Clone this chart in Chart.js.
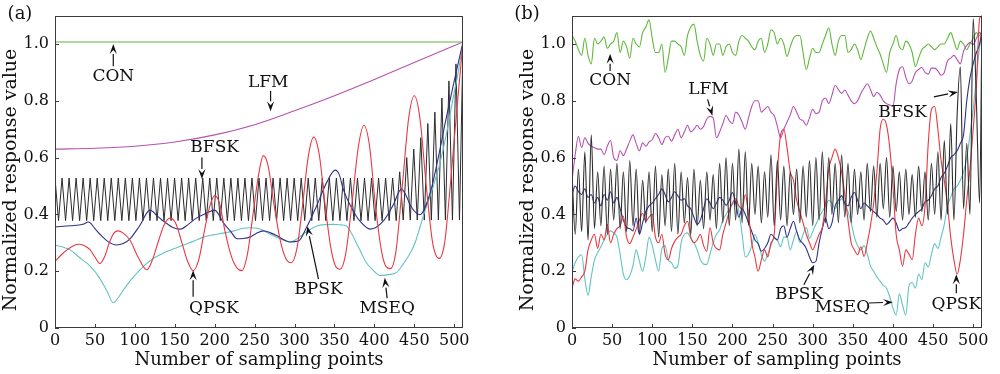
<!DOCTYPE html>
<html><head><meta charset="utf-8">
<script src="https://cdn.jsdelivr.net/npm/chart.js@4.4.0/dist/chart.umd.min.js"></script>
<style>
html,body{margin:0;padding:0;background:#fff;}
#wrap{position:relative;width:1000px;height:374px;overflow:hidden;}
canvas{position:absolute;top:0;}
#ca{left:0;} #cb{left:500px;}
</style></head><body>
<div id="wrap"><canvas id="ca" width="500" height="374"></canvas><canvas id="cb" width="500" height="374"></canvas></div>
<script>
// ---------- tick labels / titles ----------
const xTitle = 'Number of sampling points';
const yTitle = 'Normalized response value';
const xTickStep = 50, yTickStep = 0.2;
const sampleMax = 511;

// ---------- panel (a) : smooth responses [sample, value] ----------
const conA = [[0,1.007],[511,1.007]];
const lfmA = [[0,0.630],[50,0.633],[100,0.640],[150,0.655],[200,0.680],[250,0.716],[300,0.765],[350,0.818],[400,0.875],[450,0.935],[511,1.007]];
const bpskA = [[0,0.356],[20,0.36],[35,0.365],[42,0.373],[50,0.35],[56,0.331],[66,0.305],[77,0.292],[86,0.298],[94,0.314],[106,0.36],[119,0.415],[128,0.395],[136,0.376],[147,0.355],[157,0.348],[167,0.365],[177,0.387],[190,0.405],[200,0.415],[205,0.40],[211,0.37],[220,0.34],[228,0.314],[236,0.315],[244,0.32],[252,0.333],[261,0.342],[270,0.335],[278,0.325],[286,0.312],[294,0.303],[305,0.306],[315,0.354],[328,0.432],[340,0.511],[351,0.556],[356,0.54],[361,0.489],[372,0.42],[382,0.376],[395,0.348],[411,0.376],[423,0.43],[434,0.489],[440,0.465],[445,0.432],[457,0.399],[470,0.477],[480,0.6],[490,0.74],[500,0.87],[511,1.007]];
const qpskA = [[0,0.235],[8,0.258],[15,0.275],[23,0.29],[31,0.295],[38,0.288],[44,0.275],[50,0.25],[56,0.227],[62,0.25],[68,0.3],[74,0.335],[79,0.342],[85,0.335],[94,0.309],[104,0.25],[115,0.205],[122,0.24],[130,0.31],[137,0.365],[144,0.387],[151,0.37],[159,0.3],[166,0.235],[173,0.202],[180,0.24],[187,0.34],[194,0.43],[200,0.466],[206,0.44],[213,0.34],[220,0.26],[227,0.215],[234,0.202],[241,0.26],[248,0.4],[255,0.54],[261,0.607],[267,0.57],[274,0.44],[282,0.31],[289,0.245],[296,0.23],[303,0.28],[310,0.43],[317,0.6],[324,0.672],[331,0.61],[338,0.44],[345,0.29],[351,0.22],[357,0.207],[364,0.26],[372,0.44],[380,0.64],[387,0.713],[394,0.64],[401,0.44],[409,0.27],[415,0.215],[420,0.209],[427,0.27],[435,0.5],[443,0.74],[450,0.818],[457,0.74],[465,0.5],[473,0.3],[481,0.245],[488,0.3],[495,0.5],[503,0.76],[511,1.007]];
const mseqA = [[0,0.292],[10,0.285],[19,0.275],[30,0.25],[44,0.218],[55,0.18],[65,0.13],[73,0.089],[80,0.11],[90,0.151],[100,0.185],[111,0.218],[123,0.245],[136,0.264],[148,0.278],[161,0.292],[173,0.305],[186,0.32],[198,0.328],[211,0.334],[224,0.342],[236,0.351],[245,0.353],[253,0.351],[261,0.343],[269,0.331],[281,0.315],[294,0.303],[302,0.312],[311,0.331],[320,0.348],[328,0.359],[338,0.364],[349,0.365],[358,0.363],[365,0.359],[372,0.33],[378,0.297],[384,0.262],[390,0.23],[398,0.205],[407,0.185],[417,0.188],[428,0.196],[436,0.225],[445,0.264],[451,0.3],[457,0.354],[463,0.41],[470,0.466],[476,0.52],[482,0.579],[490,0.68],[498,0.8],[505,0.9],[511,1.007]];
// BFSK (a): alternating peak / trough values, one period apart
const bfskA_periods = 58;
const bfskA_peaks = [0.528,0.528,0.528,0.528,0.528,0.528,0.528,0.528,0.528,0.528,
 0.528,0.528,0.528,0.528,0.528,0.528,0.528,0.528,0.528,0.528,
 0.528,0.528,0.528,0.528,0.528,0.528,0.528,0.528,0.528,0.528,
 0.528,0.528,0.528,0.528,0.528,0.528,0.528,0.528,0.528,0.528,
 0.528,0.528,0.528,0.528,0.528,0.528,0.528,0.528,0.528,
 0.55,0.60,0.63,0.67,0.72,0.76,0.81,0.87,0.93,1.0];
const bfskA_troughs = [0.378,0.378,0.378,0.378,0.378,0.378,0.378,0.378,0.378,0.378,
 0.378,0.378,0.378,0.378,0.378,0.378,0.378,0.378,0.378,0.378,
 0.378,0.378,0.378,0.378,0.378,0.378,0.378,0.378,0.378,0.378,
 0.378,0.378,0.378,0.378,0.378,0.378,0.378,0.378,0.378,0.378,
 0.378,0.378,0.378,0.378,0.378,0.378,0.378,0.378,0.378,0.38,
 0.38,0.38,0.38,0.38,0.38,0.38,0.38,0.38];

// ---------- panel (b) : noisy responses, one value every 4 samples (0..508) then 511 ----------
const sampleStepB = 4;
const conB = [1.03,1.01,0.98,0.96,1.02,0.96,0.93,1.02, 1.00,1.01,1.025,0.985,1.00,1.01,1.04,0.97,
 1.01,0.99,0.95,1.02,1.00,0.99,1.04,1.06, 1.085,1.02,0.97,0.97,1.00,0.90,0.95,1.01,
 1.01,1.00,0.99,0.96,1.03,1.06,1.07,1.01, 0.96,0.94,1.02,1.00,0.96,1.00,1.00,0.96,
 0.99,1.00,0.97,0.96,1.01,1.03,1.02,1.01, 0.99,0.98,1.01,1.02,0.97,1.00,1.05,1.04,
 1.00,1.02,1.00,0.956,0.99,1.02,1.03,1.03, 0.97,0.91,0.95,0.985,0.97,0.97,1.00,1.03,
 1.057,1.00,0.96,1.01,1.03,1.03,0.97,0.98, 1.00,0.98,0.945,0.98,1.02,1.046,1.02,0.99,
 0.965,0.93,0.90,0.97,1.00,1.03,0.99,0.98, 1.01,1.00,0.97,0.92,0.95,0.98,0.99,1.00,
 0.99,0.98,0.99,1.00,1.00,1.02,1.04,1.01, 0.98,1.01,1.00,0.98,1.00,1.02,1.04,1.03, 1.05];
const lfmB = [0.52,0.61,0.675,0.635,0.67,0.65,0.64,0.635, 0.63,0.63,0.61,0.64,0.66,0.60,0.59,0.624,
 0.607,0.63,0.658,0.68,0.65,0.624,0.652,0.64, 0.655,0.663,0.685,0.67,0.646,0.67,0.675,0.658,
 0.68,0.70,0.67,0.69,0.714,0.69,0.70,0.714, 0.70,0.71,0.736,0.745,0.74,0.67,0.69,0.72,
 0.748,0.73,0.72,0.76,0.75,0.725,0.70,0.74, 0.78,0.80,0.80,0.76,0.77,0.78,0.76,0.748,
 0.71,0.67,0.70,0.725,0.75,0.78,0.76,0.736, 0.73,0.714,0.74,0.77,0.755,0.76,0.80,0.81,
 0.79,0.82,0.855,0.84,0.826,0.838,0.82,0.80, 0.79,0.80,0.826,0.845,0.86,0.84,0.815,0.83,
 0.82,0.80,0.79,0.785,0.78,0.86,0.91,0.92, 0.883,0.86,0.87,0.90,0.91,0.917,0.90,0.894,
 0.915,0.915,0.905,0.89,0.90,0.94,0.95,0.96, 0.945,0.93,0.975,0.995,1.005,0.998,1.02,1.04, 1.03];
const bfskB = [0.55,0.33,0.56,0.34,0.62,0.31,0.68,0.35, 0.55,0.36,0.57,0.33,0.56,0.38,0.58,0.35,
 0.55,0.34,0.59,0.36,0.56,0.33,0.52,0.37, 0.55,0.34,0.57,0.32,0.54,0.36,0.56,0.34,
 0.58,0.33,0.55,0.37,0.53,0.33,0.56,0.36, 0.52,0.35,0.55,0.38,0.54,0.35,0.58,0.37,
 0.60,0.36,0.58,0.38,0.63,0.37,0.62,0.36, 0.58,0.40,0.57,0.37,0.55,0.39,0.61,0.36,
 0.59,0.38,0.57,0.36,0.55,0.40,0.56,0.37, 0.57,0.39,0.59,0.36,0.60,0.38,0.62,0.37,
 0.60,0.40,0.58,0.37,0.61,0.39,0.58,0.37, 0.56,0.40,0.55,0.38,0.58,0.41,0.57,0.39,
 0.58,0.42,0.60,0.39,0.57,0.41,0.55,0.38, 0.56,0.40,0.54,0.39,0.57,0.41,0.55,0.38,
 0.58,0.40,0.62,0.38,0.66,0.40,0.72,0.38, 0.75,0.92,0.42,0.65,0.40,1.09,0.80,0.44, 1.10];
const qpskB = [0.14,0.173,0.165,0.18,0.20,0.275,0.31,0.33, 0.28,0.33,0.31,0.365,0.30,0.33,0.35,0.36,
 0.393,0.32,0.297,0.32,0.348,0.38,0.404,0.376, 0.39,0.40,0.32,0.30,0.33,0.26,0.24,0.28,
 0.305,0.32,0.33,0.36,0.376,0.32,0.30,0.31, 0.33,0.29,0.27,0.353,0.30,0.28,0.275,0.33,
 0.37,0.41,0.44,0.455,0.43,0.42,0.47,0.40, 0.30,0.25,0.20,0.24,0.275,0.25,0.30,0.33,
 0.55,0.68,0.70,0.635,0.55,0.52,0.45,0.41, 0.37,0.33,0.30,0.275,0.30,0.33,0.354,0.44,
 0.56,0.60,0.63,0.60,0.55,0.47,0.38,0.30, 0.275,0.258,0.286,0.252,0.30,0.36,0.44,0.55,
 0.70,0.735,0.714,0.635,0.50,0.33,0.275,0.218, 0.275,0.26,0.24,0.33,0.387,0.36,0.43,0.65,
 0.77,0.78,0.70,0.59,0.52,0.432,0.32,0.24, 0.19,0.24,0.33,0.45,0.56,0.70,0.85,1.09, 1.10];
const bpskB = [0.47,0.50,0.48,0.47,0.49,0.46,0.47,0.44, 0.46,0.43,0.47,0.45,0.48,0.44,0.46,0.42,
 0.38,0.354,0.35,0.342,0.387,0.33,0.37,0.41, 0.43,0.44,0.455,0.47,0.49,0.47,0.444,0.46,
 0.48,0.465,0.45,0.455,0.43,0.42,0.39,0.365, 0.38,0.42,0.455,0.44,0.42,0.44,0.46,0.45,
 0.432,0.45,0.477,0.44,0.39,0.42,0.40,0.37, 0.34,0.31,0.297,0.27,0.28,0.30,0.33,0.32,
 0.31,0.35,0.36,0.32,0.35,0.376,0.34,0.31, 0.297,0.28,0.25,0.23,0.235,0.30,0.35,0.387,
 0.35,0.37,0.43,0.45,0.466,0.44,0.43,0.46, 0.477,0.45,0.42,0.44,0.43,0.42,0.41,0.40,
 0.387,0.38,0.365,0.375,0.387,0.37,0.342,0.35, 0.354,0.37,0.387,0.40,0.41,0.42,0.444,0.45,
 0.466,0.49,0.50,0.53,0.545,0.57,0.60,0.61, 0.624,0.65,0.68,0.80,0.88,0.93,0.97,1.00, 1.05];
const mseqB = [0.196,0.23,0.25,0.258,0.173,0.115,0.18,0.24, 0.265,0.286,0.31,0.33,0.342,0.335,0.32,0.26,
 0.19,0.17,0.185,0.22,0.275,0.235,0.20,0.25, 0.32,0.29,0.24,0.20,0.28,0.29,0.24,0.23,
 0.21,0.22,0.30,0.33,0.335,0.315,0.30,0.275, 0.24,0.225,0.224,0.26,0.30,0.33,0.345,0.38,
 0.40,0.42,0.435,0.444,0.41,0.33,0.25,0.26, 0.29,0.33,0.30,0.26,0.235,0.26,0.29,0.315,
 0.31,0.286,0.32,0.32,0.275,0.31,0.34,0.30, 0.33,0.354,0.315,0.34,0.365,0.39,0.41,0.43,
 0.45,0.44,0.42,0.44,0.455,0.435,0.41,0.37, 0.32,0.29,0.275,0.29,0.26,0.218,0.20,0.18,
 0.165,0.15,0.14,0.11,0.07,0.045,0.12,0.08, 0.045,0.15,0.16,0.14,0.19,0.17,0.23,0.215,
 0.26,0.297,0.28,0.32,0.365,0.43,0.46,0.49, 0.50,0.52,0.55,0.60,0.68,0.77,0.88,0.99, 1.04];

// ---------- annotations [text, textX, textY, tailX, tailY, tipX, tipY] in data units ----------
const notesA = [
 ['CON',73,0.885,73,0.922,73,1.0],
 ['LFM',267,0.865,270,0.835,270,0.763],
 ['BFSK',200,0.635,184,0.60,184,0.525],
 ['QPSK',199,0.068,173,0.11,173,0.203],
 ['BPSK',330,0.135,330,0.172,316,0.358],
 ['MSEQ',416,0.068,416,0.105,413,0.177]
];
const notesB = [
 ['CON',47.5,0.872,47.5,0.905,47.5,0.966],
 ['LFM',170,0.841,169,0.805,175,0.747],
 ['BFSK',412,0.76,451,0.814,481,0.831],
 ['BPSK',283,0.118,289,0.152,302,0.223],
 ['MSEQ',337,0.071,370,0.088,400,0.091],
 ['QPSK',479,0.084,479,0.122,479,0.189]
];

const FONT = '"DejaVu Serif", "Liberation Serif", serif';
const COL = {con:'#5fb83a', lfm:'#b552b0', bfsk:'#2b2b2b', qpsk:'#e8383f', bpsk:'#2f3188', mseq:'#62c3c3'};

const pairs = arr => arr.map(p => ({x:p[0], y:p[1]}));
function bfskPoints(){
  const P = sampleMax / bfskA_periods, out = [];
  for (let k = 0; k < bfskA_peaks.length; k++){
    out.push({x:k*P, y:bfskA_peaks[k]});
    if (k < bfskA_troughs.length) out.push({x:(k+0.5)*P, y:bfskA_troughs[k]});
  }
  return out;
}
function gridB(vals){
  return vals.map((v,i) => ({x: Math.min(i*sampleStepB, sampleMax), y:v}));
}

const deco = {
  id:'deco',
  afterDatasetsDraw(chart, args, opts){
    const {ctx, chartArea:a, scales:{x, y}} = chart;
    ctx.save();
    ctx.strokeStyle = '#3a3a3a'; ctx.lineWidth = 1;
    ctx.strokeRect(Math.round(a.left)+0.5, Math.round(a.top)+0.5, Math.round(a.right-a.left)-1, Math.round(a.bottom-a.top)-1);
    ctx.beginPath();
    x.ticks.forEach(t => { const px = Math.round(x.getPixelForValue(t.value))+0.5; ctx.moveTo(px, a.bottom); ctx.lineTo(px, a.bottom-4); });
    y.ticks.forEach(t => { const py = Math.round(y.getPixelForValue(t.value))+0.5; ctx.moveTo(a.left, py); ctx.lineTo(a.left+4, py); });
    ctx.stroke();
    ctx.fillStyle = '#111'; ctx.strokeStyle = '#111';
    ctx.font = '17px ' + FONT; ctx.textAlign = 'center'; ctx.textBaseline = 'middle';
    opts.notes.forEach(n => {
      ctx.fillText(n[0], x.getPixelForValue(n[1]), y.getPixelForValue(n[2]));
      const x0 = x.getPixelForValue(n[3]), y0 = y.getPixelForValue(n[4]);
      const x1 = x.getPixelForValue(n[5]), y1 = y.getPixelForValue(n[6]);
      const ang = Math.atan2(y1-y0, x1-x0), L = 10, W = 3.6;
      const bx = x1 - L*Math.cos(ang), by = y1 - L*Math.sin(ang);
      ctx.lineWidth = 1.2;
      ctx.beginPath(); ctx.moveTo(x0, y0); ctx.lineTo(bx, by); ctx.stroke();
      ctx.beginPath();
      ctx.moveTo(x1, y1);
      ctx.lineTo(bx - W*Math.sin(ang), by + W*Math.cos(ang));
      ctx.lineTo(x1 - 0.6*L*Math.cos(ang), y1 - 0.6*L*Math.sin(ang));
      ctx.lineTo(bx + W*Math.sin(ang), by - W*Math.cos(ang));
      ctx.closePath(); ctx.fill();
    });
    ctx.font = '18px ' + FONT; ctx.textAlign = 'center';
    ctx.fillText(opts.tag, opts.tagX, 14);
    // y-axis title
    ctx.font = '19px ' + FONT;
    ctx.translate(opts.yTitleX, opts.yTitleY);
    ctx.rotate(-Math.PI/2);
    ctx.fillText(yTitle, 0, 0);
    ctx.restore();
  }
};

function options(padL, padR, yW, notes, tag, tagX, yTitleX){
  const tickFont = {family:FONT, size:16};
  const titleFont = {family:FONT, size:18};
  return {
    responsive:false, animation:false, events:[],
    layout:{padding:{left:padL, right:padR, top:4, bottom:3}},
    plugins:{legend:{display:false}, tooltip:{enabled:false}, deco:{notes, tag, tagX, yTitleX, yTitleY:180}},
    elements:{point:{radius:0}, line:{borderWidth:1.1}},
    scales:{
      x:{type:'linear', min:0, max:sampleMax,
         afterFit:s => { s.height = 43; },
         grid:{display:false, drawTicks:false}, border:{display:false},
         ticks:{stepSize:xTickStep, includeBounds:false, padding:3, maxRotation:0, autoSkip:false, color:'#111', font:tickFont, callback:v => String(v)},
         title:{display:true, text:xTitle, color:'#111', font:titleFont, padding:0}},
      y:{type:'linear', min:0, max:1.1,
         afterFit:s => { s.width = yW; },
         grid:{display:false, drawTicks:false}, border:{display:false},
         ticks:{stepSize:yTickStep, includeBounds:false, padding:6, color:'#111', font:tickFont, callback:v => v === 0 ? '0' : v.toFixed(1)},
         title:{display:false}}
    }
  };
}

const mono = (label, data, color) => ({label, data, borderColor:color, backgroundColor:color, fill:false, cubicInterpolationMode:'monotone', tension:0.4});

new Chart(document.getElementById('ca'), {
  type:'line',
  data:{datasets:[
    mono('QPSK', pairs(qpskA), COL.qpsk),
    mono('BPSK', pairs(bpskA), COL.bpsk),
    mono('MSEQ', pairs(mseqA), COL.mseq),
    mono('CON', pairs(conA), COL.con),
    mono('LFM', pairs(lfmA), COL.lfm),
    {label:'BFSK', data:bfskPoints(), borderColor:COL.bfsk, fill:false, tension:0, borderWidth:1}
  ]},
  options: options(0, 37, 55, notesA, '(a)', 20, 11),
  plugins:[deco]
});

new Chart(document.getElementById('cb'), {
  type:'line',
  data:{datasets:[
    mono('BFSK', gridB(bfskB), COL.bfsk),
    mono('QPSK', gridB(qpskB), COL.qpsk),
    mono('BPSK', gridB(bpskB), COL.bpsk),
    mono('MSEQ', gridB(mseqB), COL.mseq),
    mono('LFM', gridB(lfmB), COL.lfm),
    mono('CON', gridB(conB), COL.con)
  ]},
  options: options(16, 18, 56, notesB, '(b)', 27, 28),
  plugins:[deco]
});
</script>
</body></html>
